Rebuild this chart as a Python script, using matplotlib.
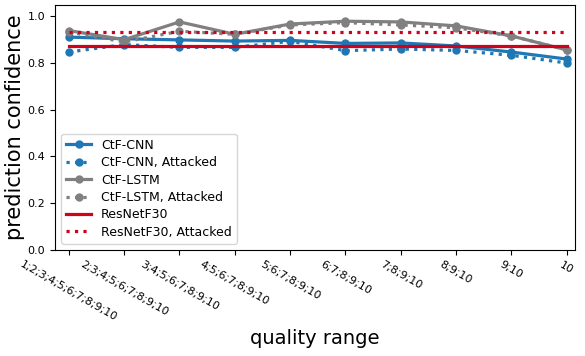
import matplotlib
matplotlib.use("Agg")
import matplotlib.pyplot as plt

ranges = ["1;2;3;4;5;6;7;8;9;10", "2;3;4;5;6;7;8;9;10", "3;4;5;6;7;8;9;10",
          "4;5;6;7;8;9;10", "5;6;7;8;9;10", "6;7;8;9;10", "7;8;9;10",
          "8;9;10", "9;10", "10"]

cnn = [0.911, 0.904, 0.899, 0.894, 0.897, 0.884, 0.886, 0.873, 0.847, 0.817]
cnn_att = [0.847, 0.879, 0.867, 0.867, 0.893, 0.853, 0.860, 0.854, 0.833, 0.800]
lstm = [0.939, 0.900, 0.976, 0.923, 0.967, 0.979, 0.976, 0.959, 0.916, 0.856]
lstm_att = [0.933, 0.890, 0.936, 0.923, 0.963, 0.973, 0.963, 0.951, 0.916, 0.856]
resnet = 0.871
resnet_att = 0.931

x = list(range(len(ranges)))

fig, ax = plt.subplots(figsize=(5.85, 3.56), dpi=100)
blue = "#1f77b4"
gray = "#808080"
red = "#d0021b"

ax.plot(x, cnn, "-o", color=blue, lw=2.3, ms=5, label="CtF-CNN")
ax.plot(x, cnn_att, ":o", color=blue, lw=2.3, ms=5, label="CtF-CNN, Attacked")
ax.plot(x, lstm, "-o", color=gray, lw=2.3, ms=5, label="CtF-LSTM")
ax.plot(x, lstm_att, ":o", color=gray, lw=2.3, ms=5, label="CtF-LSTM, Attacked")
ax.plot(x, [resnet] * len(x), "-", color=red, lw=2.3, label="ResNetF30")
ax.plot(x, [resnet_att] * len(x), ":", color=red, lw=2.3, label="ResNetF30, Attacked")

ax.set_xlim(-0.25, 9.15)
ax.set_ylim(0, 1.05)
ax.set_xticks(x)
ax.set_xticklabels(ranges, rotation=-30, fontsize=8)
ax.tick_params(axis="y", labelsize=8)
ax.set_xlabel("quality range", fontsize=14)
ax.set_ylabel("prediction confidence", fontsize=15, labelpad=2)
ax.legend(loc="lower left", fontsize=9, labelspacing=0.35)

plt.subplots_adjust(left=0.094, right=0.983, top=0.987, bottom=0.298)
plt.savefig("out.png")
